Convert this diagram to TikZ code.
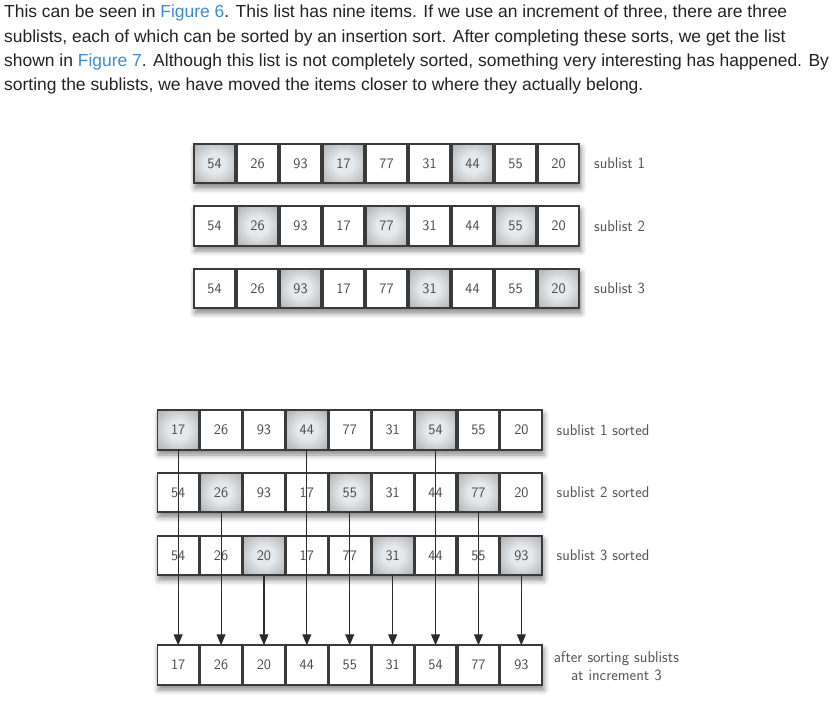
\documentclass[tikz,border=0pt]{standalone}
\usepackage{fontspec}
\setmainfont{Liberation Sans}
\usetikzlibrary{arrows.meta,shadows.blur}
\definecolor{paratext}{HTML}{222222}
\definecolor{linkblue}{HTML}{3B8BD6}
\definecolor{boxborder}{HTML}{3A3A3A}
\definecolor{numgray}{HTML}{4A4A4A}
\definecolor{labgray}{HTML}{555555}
\definecolor{arrowcol}{HTML}{2B2B2B}
\definecolor{hotin}{HTML}{E6E9EB}
\definecolor{hotout}{HTML}{92979B}
\pgfdeclareradialshading{hotshade}{\pgfpoint{0bp}{0bp}}{color(0bp)=(hotin); color(12bp)=(hotin); color(46bp)=(hotout); color(72bp)=(hotout!80!black)}
\newcommand{\lnk}[1]{\textcolor{linkblue}{#1}}
\tikzset{
  para/.style={anchor=base west, inner sep=0, text=paratext, font=\fontsize{17.45}{17.45}\selectfont},
  cell/.style={draw=boxborder, line width=1.6pt, fill=white, minimum width=41.4pt,
    minimum height=39.5pt, inner sep=0, outer sep=0,
    font=\sffamily\fontsize{14.5}{14.5}\selectfont, text=numgray},
  hot/.style={cell, shading=hotshade},
  rowshadow/.style={fill=white, blur shadow={shadow xshift=1.5pt, shadow yshift=-4.5pt,
    shadow blur radius=5pt, shadow opacity=45}},
  lab/.style={anchor=west, inner sep=0, text=labgray, font=\sffamily\fontsize{15.6}{15.6}\selectfont},
  sortarrow/.style={draw=arrowcol, line width=1.1pt, -{Triangle[length=11pt,width=9pt]}}
}
\begin{document}
\begin{tikzpicture}[x=1pt,y=-1pt]
\useasboundingbox (0,0) rectangle (838,719);
% paragraph
\node[para] (p1) at (4,17.8) {This can be seen in \lnk{Figure 6}. This list has nine items. If we use an increment of three, there are three};
\node[para] (p2) at (4,42.2) {sublists, each of which can be sorted by an insertion sort. After completing these sorts, we get the list};
\node[para] (p3) at (4,66.6) {shown in \lnk{Figure 7}. Although this list is not completely sorted, something very interesting has happened. By};
\node[para] (p4) at (4,91.0) {sorting the sublists, we have moved the items closer to where they actually belong.};

% ---------- top figure ----------
\foreach \r/\yc in {1/163.5, 2/226, 3/288.5}{
  \path[rowshadow] (193,\yc-20.5) rectangle (580,\yc+20.5);
}
\foreach \r/\yc in {1/163.5, 2/226, 3/288.5}{
  \foreach \v [count=\c] in {54,26,93,17,77,31,44,55,20}{
    \pgfmathtruncatemacro{\m}{mod(\c-\r,3)}
    \ifnum\m=0
      \node[hot] (t\r-\c) at (214.5+43*\c-43,\yc) {\v};
    \else
      \node[cell] (t\r-\c) at (214.5+43*\c-43,\yc) {\v};
    \fi
  }
  \node[lab] (tl\r) at (594,\yc) {sublist \r};
}

% ---------- bottom figure ----------
\foreach \yc in {430, 492.5, 555.5, 665}{
  \path[rowshadow] (156.7,\yc-20.5) rectangle (542.7,\yc+20.5);
}
\foreach \r/\yc/\vals in {1/430/{17,26,93,44,77,31,54,55,20},
                          2/492.5/{54,26,93,17,55,31,44,77,20},
                          3/555.5/{54,26,20,17,77,31,44,55,93}}{
  \foreach \v [count=\c] in \vals{
    \pgfmathtruncatemacro{\m}{mod(\c-\r,3)}
    \ifnum\m=0
      \node[hot] (b\r-\c) at (178.15+42.9*\c-42.9,\yc) {\v};
    \else
      \node[cell] (b\r-\c) at (178.15+42.9*\c-42.9,\yc) {\v};
    \fi
  }
  \node[lab] (bl\r) at (556.5,\yc) {sublist \r\ sorted};
}
\foreach \v [count=\c] in {17,26,20,44,55,31,54,77,93}{
  \node[cell] (f-\c) at (178.15+42.9*\c-42.9,665) {\v};
}
\node[lab, anchor=base, font=\sffamily\fontsize{15.8}{15.8}\selectfont] (fl1) at (616.4,662.7) {after sorting sublists};
\node[lab, anchor=base, font=\sffamily\fontsize{15.8}{15.8}\selectfont] (fl2) at (616.4,680.7) {at increment 3};

% arrows
\foreach \c in {1,...,9}{
  \pgfmathtruncatemacro{\r}{mod(\c-1,3)+1}
  \draw[sortarrow] (b\r-\c.south) -- (f-\c.north);
}
\end{tikzpicture}
\end{document}
